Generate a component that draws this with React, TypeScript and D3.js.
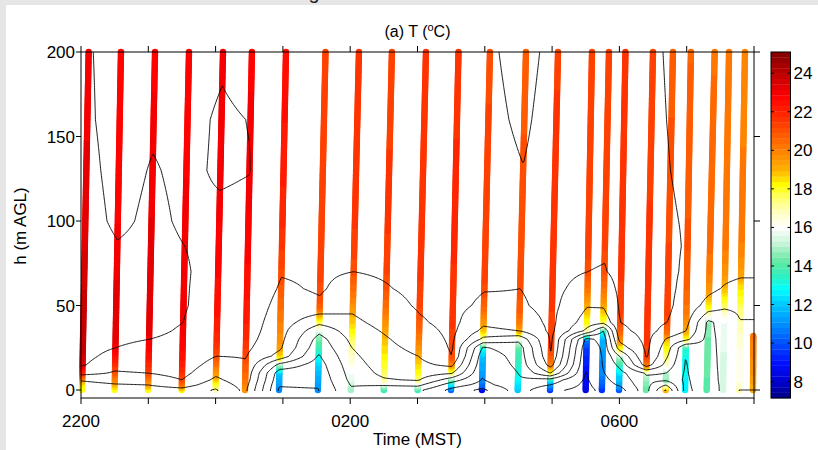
import React, { useMemo } from 'react';
import * as d3 from 'd3';

// Heights (m AGL) at which each tethersonde profile is tabulated
const heights = [0, 3, 6, 10, 15, 20, 25, 30, 35, 40, 45, 50, 60, 70, 85, 100, 130, 160, 200];

// Profile start (bottom) and end (top, 200 m) times in hours after midnight of the first day (24 = 0000 MST)
const profileStart = [22.015, 22.50, 22.996, 23.496, 24.0, 24.437, 24.942, 25.52, 26.01, 26.50, 27.003, 27.498, 27.958, 28.489, 28.969, 29.499, 29.74, 29.994, 30.395, 30.688, 30.975, 31.297, 31.539, 31.777];
const profileEnd = [22.114, 22.594, 23.10, 23.605, 24.11, 24.54, 25.046, 25.633, 26.13, 26.62, 27.126, 27.609, 28.077, 28.612, 29.088, 29.593, 29.845, 30.09, 30.499, 30.796, 31.063, 31.416, 31.629, 31.866];

// Temperatures (°C) of each profile at the heights above
const temps = [
  [18.0, 18.3, 19.2, 21.6, 23.2, 23.6, 23.8, 23.9, 23.9, 23.9, 23.9, 23.8, 23.7, 23.6, 23.4, 23.3, 23.2, 23.1, 23.05],
  [18.0, 18.8, 19.8, 20.8, 21.6, 22.3, 23.0, 23.2, 23.3, 23.3, 23.3, 23.3, 23.2, 23.1, 23.05, 22.85, 22.75, 22.7, 22.7],
  [18.0, 19.0, 20.0, 21.0, 21.8, 22.3, 22.7, 23.0, 23.2, 23.3, 23.3, 23.3, 23.3, 23.25, 23.2, 23.15, 23.05, 22.9, 22.8],
  [18.3, 20.0, 21.0, 21.6, 22.1, 22.4, 22.6, 22.8, 22.9, 23.0, 23.05, 23.1, 23.1, 23.1, 23.0, 22.9, 22.85, 22.8, 22.7],
  [16.8, 17.8, 18.6, 19.4, 20.2, 21.0, 21.4, 21.8, 22.0, 22.2, 22.3, 22.4, 22.5, 22.6, 22.7, 22.85, 23.1, 23.1, 22.9],
  [19.5, 19.8, 20.2, 20.5, 20.8, 21.1, 21.4, 21.7, 21.9, 22.0, 22.1, 22.2, 22.4, 22.5, 22.7, 22.8, 23.02, 22.98, 22.7],
  [10.8, 11.1, 11.5, 11.9, 14.5, 18.3, 19.3, 19.6, 19.8, 20.0, 20.2, 20.4, 20.8, 21.1, 21.5, 21.8, 22.1, 22.3, 22.3],
  [10.9, 11.2, 11.4, 11.7, 12.1, 12.8, 13.6, 14.2, 15.5, 17.5, 19.0, 20.8, 21.15, 21.2, 21.3, 21.3, 21.3, 21.2, 21.2],
  [14.8, 15.1, 15.5, 15.8, 16.2, 16.6, 17.0, 17.5, 18.1, 18.6, 19.0, 19.6, 20.4, 21.0, 21.3, 21.5, 21.6, 21.6, 21.5],
  [13.5, 15.2, 16.8, 17.5, 17.9, 18.2, 18.5, 18.8, 19.2, 19.6, 20.0, 20.4, 20.9, 21.2, 21.4, 21.5, 21.5, 21.4, 21.4],
  [13.5, 15.5, 17.2, 18.0, 18.5, 19.0, 19.5, 20.0, 20.4, 20.8, 21.0, 21.2, 21.4, 21.5, 21.6, 21.7, 21.7, 21.7, 21.6],
  [10.5, 12.0, 14.0, 17.2, 19.5, 21.0, 21.2, 21.3, 21.4, 21.5, 21.5, 21.6, 21.7, 21.7, 21.8, 21.8, 21.8, 21.7, 21.7],
  [8.5, 10.3, 10.9, 11.2, 11.5, 11.8, 12.8, 16.5, 18.5, 19.4, 20.0, 20.6, 21.1, 21.3, 21.4, 21.4, 21.3, 21.2, 21.1],
  [12.0, 12.3, 12.7, 13.0, 13.4, 13.7, 14.0, 15.5, 19.0, 20.0, 20.5, 20.8, 21.0, 21.05, 21.1, 21.1, 21.02, 20.85, 20.7],
  [9.5, 11.0, 12.3, 17.0, 19.8, 20.8, 21.2, 21.3, 21.4, 21.4, 21.4, 21.5, 21.5, 21.5, 21.5, 21.5, 21.5, 21.5, 21.4],
  [8.3, 8.5, 8.7, 8.9, 9.1, 9.3, 9.6, 10.5, 16.5, 18.0, 18.6, 19.1, 20.2, 21.0, 21.3, 21.4, 21.4, 21.3, 21.3],
  [9.5, 10.0, 10.4, 10.8, 11.0, 11.1, 11.3, 11.6, 13.0, 17.5, 18.5, 19.2, 20.2, 20.9, 21.2, 21.3, 21.4, 21.4, 21.4],
  [10.0, 11.2, 11.8, 12.3, 13.5, 15.0, 18.0, 19.6, 20.6, 21.0, 21.2, 21.3, 21.4, 21.5, 21.6, 21.6, 21.7, 21.6, 21.6],
  [14.3, 14.4, 14.6, 15.2, 20.0, 21.2, 21.4, 21.5, 21.6, 21.6, 21.6, 21.6, 21.6, 21.6, 21.5, 21.5, 21.4, 21.3, 21.2],
  [19.2, 17.0, 14.6, 15.0, 16.4, 17.3, 18.0, 18.8, 20.4, 21.0, 21.2, 21.3, 21.3, 21.25, 21.2, 21.1, 21.0, 20.9, 20.8],
  [12.5, 12.6, 12.7, 12.8, 12.9, 13.0, 13.2, 17.5, 19.0, 19.6, 20.0, 20.3, 20.6, 20.8, 20.9, 20.9, 20.8, 20.7, 20.6],
  [14.0, 14.1, 14.1, 14.2, 14.2, 14.3, 14.3, 14.4, 14.5, 14.6, 16.5, 18.2, 19.5, 20.1, 20.4, 20.6, 20.5, 20.4, 20.3],
  [15.3, 15.3, 15.4, 15.4, 15.5, 15.5, 15.6, 15.6, 15.7, 15.8, 16.3, 17.5, 18.8, 19.6, 20.1, 20.3, 20.3, 20.2, 20.1],
  [17.0, 16.6, 16.4, 16.3, 16.3, 16.3, 16.4, 16.5, 16.7, 16.9, 17.2, 17.6, 18.3, 19.4, 20.0, 20.2, 20.1, 20.0, 19.9],
];

// Last, short profile (0800 MST), only the lowest part
const shortHeights = [0, 10, 20, 32];
const shortTemps = [19.0, 19.5, 19.8, 20.1];
const shortStart = 31.985;
const shortEnd = 31.99;

const contourLevels = [9, 11, 13, 15, 17, 19, 21, 23];

const xTicks = [22, 23, 24, 25, 26, 27, 28, 29, 30, 31, 32];
const xTickLabels = ['2200', '', '', '', '0200', '', '', '', '0600', '', ''];
const yTicks = [0, 50, 100, 150, 200];
const cbTicks = [8, 10, 12, 14, 16, 18, 20, 22, 24];

const cbStopsT = [7.15, 8.0, 9.0, 10.0, 11.0, 12.0, 12.8, 13.5, 14.2, 15.2, 16.0, 16.8, 17.5, 18.2, 19.0, 20.0, 21.0, 22.0, 22.8, 23.5, 24.3, 25.1];
const cbStopsC = ['#000080', '#0000d0', '#0010ff', '#0050ff', '#0090ff', '#00c8ff', '#00ffff', '#30f0c0', '#60e8a0', '#c8f5d8', '#ffffff', '#ffffc0', '#ffff70', '#ffff00', '#ffb000', '#ff8000', '#ff5000', '#ff2000', '#ff0000', '#d80000', '#ac0000', '#800000'];

const FONT = 'Liberation Sans, Arial, Helvetica, sans-serif';

export default function App() {
  const W = 818, H = 450;
  const L = 81, R = 754, T = 52, B = 398;
  const x = d3.scaleLinear().domain([22, 32]).range([L, R]);
  const y = d3.scaleLinear().domain([-4.73, 200]).range([B, T]);
  const cmin = 7.15, cmax = 25.1, nLev = 64;
  const cont = d3.scaleLinear<string>().domain(cbStopsT).range(cbStopsC).interpolate(d3.interpolateRgb).clamp(true);
  const qcolor = (v: number) => {
    let k = Math.floor(((v - cmin) / (cmax - cmin)) * nLev);
    k = Math.max(0, Math.min(nLev - 1, k));
    return cont(cmin + ((k + 0.5) * (cmax - cmin)) / nLev);
  };
  const cb = d3.scaleLinear().domain([cmin, cmax]).range([B, T]);
  const CBX = 771, CBW = 19.5;

  const fns = temps.map((r) => d3.scaleLinear().domain(heights).range(r).clamp(true));
  const sfn = d3.scaleLinear().domain(shortHeights).range(shortTemps).clamp(true);
  const shortTop = shortHeights[shortHeights.length - 1];

  const dots = useMemo(() => {
    const out: { cx: number; cy: number; fill: string }[] = [];
    profileStart.forEach((ts, i) => {
      const te = profileEnd[i];
      for (let h = 0; h <= 200; h += 1) {
        out.push({ cx: x(ts + ((te - ts) * h) / 200), cy: y(h), fill: qcolor(fns[i](h)) });
      }
    });
    for (let h = 0; h <= shortTop; h += 1) {
      out.push({ cx: x(shortStart + ((shortEnd - shortStart) * h) / shortTop), cy: y(h), fill: qcolor(sfn(h)) });
    }
    return out;
  }, []);

  const contourPaths = useMemo(() => {
    const t0 = 21.8, dt = 0.02, nx = Math.round((32.2 - 21.8) / dt) + 1;
    const h0 = -10, dh = 1, ny = 221;
    const values: number[] = new Array(nx * ny);
    for (let j = 0; j < ny; j++) {
      const h = Math.max(0, Math.min(200, h0 + j * dh));
      const pts: [number, number][] = profileStart.map((ts, i) => [ts + ((profileEnd[i] - ts) * h) / 200, fns[i](h)]);
      let k = 0;
      for (let i = 0; i < nx; i++) {
        const t = t0 + i * dt;
        let v: number;
        if (t <= pts[0][0]) v = pts[0][1];
        else if (t >= pts[pts.length - 1][0]) v = pts[pts.length - 1][1];
        else {
          while (k < pts.length - 2 && t > pts[k + 1][0]) k++;
          const [ta, va] = pts[k];
          const [tb, vb] = pts[k + 1];
          v = va + ((vb - va) * (t - ta)) / (tb - ta);
        }
        values[j * nx + i] = v;
      }
    }
    const cs = d3.contours().size([nx, ny]).thresholds(contourLevels)(values);
    return cs.map((mp) =>
      mp.coordinates
        .map((poly) =>
          poly
            .map(
              (ring) =>
                'M' +
                ring
                  .map(([gx, gy]) => `${x(t0 + (gx - 0.5) * dt).toFixed(2)},${y(h0 + (gy - 0.5) * dh).toFixed(2)}`)
                  .join('L') +
                'Z'
            )
            .join('')
        )
        .join('')
    );
  }, []);

  const step = (cmax - cmin) / nLev;
  const cbRects = d3.range(nLev).map((k) => ({
    y0: cb(cmin + (k + 1) * step),
    y1: cb(cmin + k * step),
    fill: cont(cmin + (k + 0.5) * step),
  }));

  return (
    <div style={{ position: 'absolute', left: 0, top: 0 }}>
      <svg width={W} height={H} style={{ display: 'block', fontFamily: FONT }}>
        <defs>
          <clipPath id="plotclip">
            <rect x={L} y={T} width={R - L} height={y(0) + 1 - T} />
          </clipPath>
        </defs>
        <rect x={0} y={0} width={W} height={H} fill="#e6e6e6" />
        <rect x={6} y={5} width={W - 6} height={H - 5} fill="#ffffff" />
        <text x={314} y={-1} fontSize={20} textAnchor="middle" fill="#222">g</text>

        {/* profiles */}
        <g>
          {dots.map((d, i) => (
            <circle key={i} cx={d.cx} cy={d.cy} r={3.2} fill={d.fill} />
          ))}
        </g>

        {/* contours */}
        <g clipPath="url(#plotclip)" fill="none" stroke="#000" strokeWidth={0.9} strokeLinejoin="round">
          {contourPaths.map((p, i) => (
            <path key={i} d={p} />
          ))}
        </g>

        {/* frame */}
        <rect x={L} y={T} width={R - L} height={B - T} fill="none" stroke="#000" strokeWidth={1} />

        {/* x ticks */}
        {xTicks.map((t, i) => (
          <g key={'xt' + i}>
            <line x1={x(t)} x2={x(t)} y1={B} y2={B + 6} stroke="#000" />
            <line x1={x(t)} x2={x(t)} y1={T} y2={T - 6} stroke="#000" />
            {xTickLabels[i] && (
              <text x={x(t)} y={427} fontSize={17} textAnchor="middle" fill="#000">
                {xTickLabels[i]}
              </text>
            )}
          </g>
        ))}

        {/* y ticks */}
        {yTicks.map((v) => (
          <g key={'yt' + v}>
            <line x1={L - 5} x2={L} y1={y(v)} y2={y(v)} stroke="#000" />
            <line x1={R} x2={R + 6} y1={y(v)} y2={y(v)} stroke="#000" />
            <text x={L - 6} y={y(v) + 6} fontSize={17} textAnchor="end" fill="#000">
              {v}
            </text>
          </g>
        ))}

        {/* axis labels */}
        <text x={(L + R) / 2} y={445} fontSize={17} textAnchor="middle" fill="#000">
          Time (MST)
        </text>
        <text x={26} y={226} fontSize={17} textAnchor="middle" fill="#000" transform="rotate(-90 26 226)">
          h (m AGL)
        </text>
        <text x={(L + R) / 2} y={37} fontSize={16} textAnchor="middle" fill="#000">
          (a) T (<tspan dy={-6} fontSize={11}>o</tspan>
          <tspan dy={6}>C)</tspan>
        </text>

        {/* colorbar */}
        <g>
          {cbRects.map((r, i) => (
            <rect key={'cb' + i} x={CBX} y={r.y0} width={CBW} height={r.y1 - r.y0 + 0.3} fill={r.fill} />
          ))}
          <rect x={CBX} y={T} width={CBW} height={B - T} fill="none" stroke="#000" strokeWidth={1} />
          {cbTicks.map((v) => (
            <g key={'cbt' + v}>
              <line x1={CBX} x2={CBX + 3} y1={cb(v)} y2={cb(v)} stroke="#000" />
              <line x1={CBX + CBW - 3} x2={CBX + CBW} y1={cb(v)} y2={cb(v)} stroke="#000" />
              <text x={CBX + CBW + 3} y={cb(v) + 6} fontSize={17} fill="#000">
                {v}
              </text>
            </g>
          ))}
        </g>
      </svg>
    </div>
  );
}
